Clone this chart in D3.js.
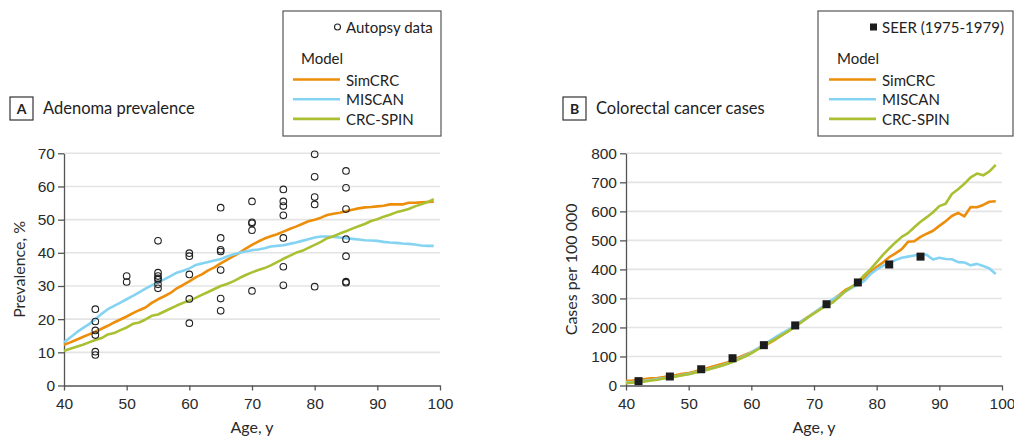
<!DOCTYPE html>
<html>
<head>
<meta charset="utf-8">
<script src="https://cdn.jsdelivr.net/npm/d3@7"></script>
<style>
  html, body { margin: 0; padding: 0; background: #fff; }
  svg { display: block; font-family: Lato, "Noto Sans", sans-serif; }
  .tick text { fill: #2a2a2a; font-size: 15.5px; }
  .axis path, .axis line { stroke: #555; stroke-width: 1.3; }
</style>
</head>
<body>
<svg id="chart" width="1014" height="438"></svg>
<script>
// age grid shared by the model curves
const ages = [40, 41, 42, 43, 44, 45, 46, 47, 48, 49, 50, 51, 52, 53, 54, 55, 56, 57, 58, 59,
  60, 61, 62, 63, 64, 65, 66, 67, 68, 69, 70, 71, 72, 73, 74, 75, 76, 77, 78, 79,
  80, 81, 82, 83, 84, 85, 86, 87, 88, 89, 90, 91, 92, 93, 94, 95, 96, 97, 98, 99];

const modelNames = ["SimCRC", "MISCAN", "CRC-SPIN"];
const modelColors = ["#ED8E0B", "#85D3F2", "#ABBF33"];

// Panel A: adenoma prevalence, %
const prevSimCRC = [12.3, 13.0, 13.8, 14.6, 15.4, 16.2, 17.1, 18.0, 19.0, 19.9, 20.8, 21.8, 22.7, 23.5, 24.9,
  26.0, 26.9, 27.9, 29.3, 30.3, 31.4, 32.6, 33.5, 34.7, 35.6, 36.8, 37.9, 38.9, 40.0, 41.3, 42.4, 43.4, 44.3,
  45.0, 45.6, 46.4, 47.2, 47.9, 48.7, 49.5, 50.0, 50.6, 51.4, 51.8, 52.1, 52.5, 53.0, 53.4, 53.7, 53.8, 54.0,
  54.2, 54.6, 54.6, 54.6, 55.1, 55.1, 55.2, 55.3, 55.4];
const prevMISCAN = [13.0, 14.5, 16.0, 17.3, 18.5, 20.0, 21.6, 23.0, 24.0, 25.0, 26.0, 27.0, 28.1, 29.2, 30.2,
  31.1, 32.0, 33.0, 34.0, 34.6, 35.3, 36.3, 36.8, 37.2, 37.7, 38.1, 38.9, 39.5, 40.0, 40.4, 40.8, 41.0, 41.4,
  41.9, 42.1, 42.3, 42.7, 43.1, 43.6, 44.1, 44.6, 44.9, 44.9, 44.8, 44.6, 44.4, 44.2, 44.0, 43.8, 43.7, 43.6,
  43.3, 43.1, 43.0, 42.8, 42.7, 42.5, 42.2, 42.1, 42.1];
const prevCRCSPIN = [10.5, 11.1, 11.7, 12.3, 13.0, 13.7, 14.3, 15.4, 15.8, 16.7, 17.5, 18.6, 19.0, 19.9, 21.0,
  21.4, 22.3, 23.2, 24.1, 24.9, 25.6, 26.4, 27.3, 28.2, 29.1, 30.0, 30.6, 31.4, 32.4, 33.3, 34.1, 34.8, 35.4,
  36.2, 37.2, 38.2, 39.1, 40.0, 40.6, 41.5, 42.4, 43.3, 44.4, 45.0, 45.8, 46.5, 47.3, 48.0, 48.7, 49.6, 50.1,
  50.9, 51.5, 52.2, 52.7, 53.2, 54.0, 54.6, 55.3, 56.2];

const autopsyAges = [45, 45, 45, 45, 45, 45, 50, 50, 55, 55, 55, 55, 55, 55, 55,
  60, 60, 60, 60, 60, 65, 65, 65, 65, 65, 65, 65, 70, 70, 70, 70, 70,
  75, 75, 75, 75, 75, 75, 75, 80, 80, 80, 80, 80, 85, 85, 85, 85, 85, 85, 85];
const autopsyValues = [23.0, 19.3, 16.6, 15.2, 10.2, 9.2, 33.0, 31.2, 43.6, 34.0, 33.0, 32.3, 31.9, 30.5, 29.3,
  39.9, 39.0, 33.5, 26.1, 18.8, 53.6, 44.5, 40.9, 40.4, 34.8, 26.2, 22.5, 55.5, 49.2, 48.9, 46.8, 28.5,
  59.1, 55.5, 54.1, 51.3, 44.5, 35.8, 30.2, 69.7, 62.9, 56.8, 54.6, 29.8, 64.7, 59.6, 53.2, 44.1, 39.0, 31.3, 31.0];

// Panel B: colorectal cancer cases per 100 000
const casesSimCRC = [16, 17, 19, 22, 25, 26, 29, 33, 36, 40, 43, 48, 54, 60, 66, 72, 78, 87, 97, 106,
  115, 126, 136, 148, 161, 175, 190, 205, 221, 236, 250, 264, 280, 295, 312, 329, 340, 353, 370, 390,
  408, 424, 442, 455, 470, 495, 497, 512, 523, 533, 550, 566, 584, 595, 583, 615, 614, 622, 633, 635];
const casesMISCAN = [10, 12, 14, 16, 19, 22, 25, 28, 32, 36, 40, 45, 50, 55, 61, 67, 74, 82, 92, 103,
  114, 127, 141, 155, 168, 181, 193, 208, 222, 235, 250, 266, 282, 297, 310, 323, 336, 348, 360, 383,
  400, 412, 422, 432, 440, 444, 448, 452, 450, 434, 440, 436, 435, 425, 424, 414, 419, 412, 403, 384];
const casesCRCSPIN = [8, 10, 12, 14, 17, 20, 24, 27, 31, 35, 39, 44, 49, 54, 60, 66, 73, 81, 90, 100,
  111, 124, 137, 150, 162, 175, 188, 203, 218, 234, 248, 262, 276, 286, 305, 325, 340, 355, 380, 400,
  425, 450, 472, 493, 512, 525, 545, 564, 580, 597, 618, 626, 660, 676, 695, 717, 730, 724, 738, 760];

const seerAges = [42, 47, 52, 57, 62, 67, 72, 77, 82, 87];
const seerValues = [15, 31, 56, 94, 139, 207, 280, 355, 417, 444];

const xTicks = [40, 50, 60, 70, 80, 90, 100];
const prevTicks = [0, 10, 20, 30, 40, 50, 60, 70];
const casesTicks = [0, 100, 200, 300, 400, 500, 600, 700, 800];

const svg = d3.select("#chart");

const drawPanel = (cfg) => {
  const g = svg.append("g");
  const x = d3.scaleLinear().domain([40, 100]).range([cfg.left, cfg.left + 376]);
  const y = d3.scaleLinear().domain([0, cfg.yMax]).range([385.5, 153.3]);

  // grid
  g.append("g")
    .selectAll("line")
    .data(cfg.yTicks.slice(1))
    .join("line")
    .attr("x1", x(40)).attr("x2", x(100))
    .attr("y1", (d) => y(d)).attr("y2", (d) => y(d))
    .attr("stroke", "#e4e4e4").attr("stroke-width", 1.6);

  g.append("g")
    .attr("class", "axis")
    .attr("transform", `translate(0, ${y(0)})`)
    .call(d3.axisBottom(x).tickValues(xTicks).tickSize(5).tickSizeOuter(0).tickPadding(7));

  g.append("g")
    .attr("class", "axis")
    .attr("transform", `translate(${x(40)}, 0)`)
    .call(d3.axisLeft(y).tickValues(cfg.yTicks).tickSize(6).tickSizeOuter(0).tickPadding(3));

  g.selectAll(".axis .domain").attr("stroke", "#555");

  const line = d3.line().x((d, i) => x(ages[i])).y((d) => y(d));
  cfg.series.forEach((s, i) => {
    g.append("path")
      .datum(s)
      .attr("d", line)
      .attr("fill", "none")
      .attr("stroke", modelColors[i])
      .attr("stroke-width", 2.6)
      .attr("stroke-linejoin", "round");
  });

  cfg.drawPoints(g, x, y);

  // axis titles
  g.append("text")
    .text("Age, y")
    .attr("x", x(70)).attr("y", 433)
    .attr("text-anchor", "middle")
    .attr("font-size", 16).attr("fill", "#2a2a2a");
  g.append("text")
    .text(cfg.yTitle)
    .attr("transform", `translate(${cfg.yTitleX}, ${y(cfg.yMax / 2)}) rotate(-90)`)
    .attr("text-anchor", "middle")
    .attr("font-size", 16).attr("fill", "#2a2a2a");

  // panel label
  g.append("rect")
    .attr("x", cfg.boxX).attr("y", 97)
    .attr("width", 23).attr("height", 23)
    .attr("fill", "none").attr("stroke", "#333").attr("stroke-width", 1.2);
  g.append("text")
    .text(cfg.letter)
    .attr("x", cfg.boxX + 11.5).attr("y", 113.5)
    .attr("text-anchor", "middle")
    .attr("font-size", 14).attr("font-weight", "bold").attr("fill", "#222");
  g.append("text")
    .text(cfg.title)
    .attr("x", cfg.boxX + 33).attr("y", 114)
    .attr("font-size", 16.5).attr("fill", "#222");

  // legend
  const lg = g.append("g");
  lg.append("rect")
    .attr("x", cfg.legend.x).attr("y", 11)
    .attr("width", cfg.legend.w).attr("height", 125)
    .attr("fill", "#fff").attr("stroke", "#555").attr("stroke-width", 1.2);
  cfg.legend.marker(lg, cfg.legend.textX - 8.5, 27);
  lg.append("text")
    .text(cfg.legend.pointLabel)
    .attr("x", cfg.legend.textX).attr("y", 33)
    .attr("font-size", 15).attr("fill", "#222");
  lg.append("text")
    .text("Model")
    .attr("x", cfg.legend.textX - 45).attr("y", 64)
    .attr("font-size", 15).attr("fill", "#222");
  modelNames.forEach((name, i) => {
    const yy = 79.5 + i * 19.7;
    lg.append("line")
      .attr("x1", cfg.legend.textX - 53).attr("x2", cfg.legend.textX - 6)
      .attr("y1", yy).attr("y2", yy)
      .attr("stroke", modelColors[i]).attr("stroke-width", 2.6);
    lg.append("text")
      .text(name)
      .attr("x", cfg.legend.textX).attr("y", yy + 6)
      .attr("font-size", 15).attr("fill", "#222");
  });
};

drawPanel({
  left: 64,
  yMax: 70,
  yTicks: prevTicks,
  yTitle: "Prevalence, %",
  yTitleX: 25,
  letter: "A",
  title: "Adenoma prevalence",
  boxX: 10,
  series: [prevSimCRC, prevMISCAN, prevCRCSPIN],
  drawPoints: (g, x, y) => {
    g.append("g")
      .selectAll("circle")
      .data(autopsyValues)
      .join("circle")
      .attr("cx", (d, i) => x(autopsyAges[i]))
      .attr("cy", (d) => y(d))
      .attr("r", 3.3)
      .attr("fill", "none")
      .attr("stroke", "#222")
      .attr("stroke-width", 1.1);
  },
  legend: {
    x: 283, w: 158, textX: 346, pointLabel: "Autopsy data",
    marker: (lg, cx, cy) => lg.append("circle")
      .attr("cx", cx).attr("cy", cy).attr("r", 3)
      .attr("fill", "none").attr("stroke", "#222").attr("stroke-width", 1.1),
  },
});

drawPanel({
  left: 626,
  yMax: 800,
  yTicks: casesTicks,
  yTitle: "Cases per 100 000",
  yTitleX: 577,
  letter: "B",
  title: "Colorectal cancer cases",
  boxX: 563,
  series: [casesSimCRC, casesMISCAN, casesCRCSPIN],
  drawPoints: (g, x, y) => {
    g.append("g")
      .selectAll("rect")
      .data(seerValues)
      .join("rect")
      .attr("x", (d, i) => x(seerAges[i]) - 4)
      .attr("y", (d) => y(d) - 4)
      .attr("width", 8).attr("height", 8)
      .attr("fill", "#1c1c1c");
  },
  legend: {
    x: 818, w: 195, textX: 882, pointLabel: "SEER (1975-1979)",
    marker: (lg, cx, cy) => lg.append("rect")
      .attr("x", cx - 3.5).attr("y", cy - 3.5)
      .attr("width", 7).attr("height", 7).attr("fill", "#1c1c1c"),
  },
});
</script>
</body>
</html>
